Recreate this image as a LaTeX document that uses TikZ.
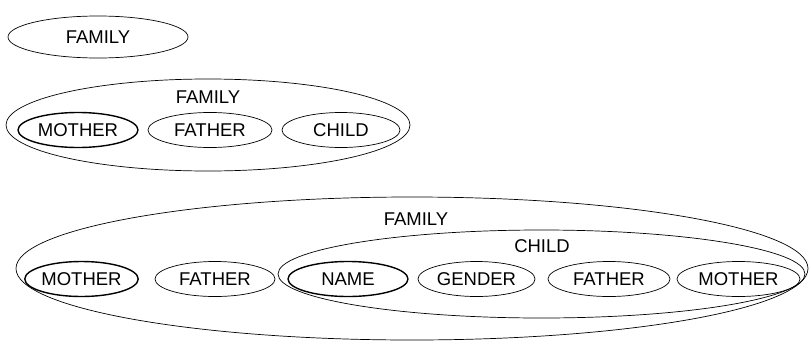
\documentclass[tikz,border=0pt]{standalone}
\usepackage{fontspec}
\setmainfont{Liberation Sans}
\usetikzlibrary{shapes.geometric}
\tikzset{
  entity/.style={draw, ellipse, line width=0.7pt, inner sep=0pt},
  attr/.style={entity, minimum height=35pt, minimum width=120pt},
  keyattr/.style={attr, line width=1.4pt},
  lbl/.style={inner sep=0pt},
}

\begin{document}
\begin{tikzpicture}[x=1pt, y=-1pt, font=\fontsize{18.5}{22}\selectfont]
  \useasboundingbox (0,0) rectangle (811,343);

  % single entity
  \node[entity, minimum width=180pt, minimum height=42pt] (famA) at (98,37) {FAMILY};

  % entity with attributes
  \node[entity, minimum width=404pt, minimum height=92pt] (famB) at (208,125) {};
  \node[lbl] (famBlbl) at (208,97) {FAMILY};
  \node[keyattr, minimum width=120pt] (famBmother) at (78,130) {MOTHER};
  \node[attr, minimum width=124pt] (famBfather) at (210,130) {FATHER};
  \node[attr, minimum width=118pt] (famBchild) at (341,130) {CHILD};

  % nested entity
  \node[entity, minimum width=792pt, minimum height=143pt] (famC) at (412,268.5) {};
  \node[lbl] (famClbl) at (416,219) {FAMILY};
  \node[keyattr, minimum width=113pt] (famCmother) at (81.5,279) {MOTHER};
  \node[attr, minimum width=120pt] (famCfather) at (215,279) {FATHER};
  \node[entity, minimum width=527pt, minimum height=88pt] (childC) at (541.5,274) {};
  \node[lbl] (childClbl) at (542,246) {CHILD};
  \node[keyattr, minimum width=120pt] (childCname) at (348,279) {NAME};
  \node[attr, minimum width=117pt] (childCgender) at (476.5,279) {GENDER};
  \node[attr, minimum width=122pt] (childCfather) at (609,279) {FATHER};
  \node[attr, minimum width=123pt] (childCmother) at (738.5,279) {MOTHER};
\end{tikzpicture}
\end{document}
